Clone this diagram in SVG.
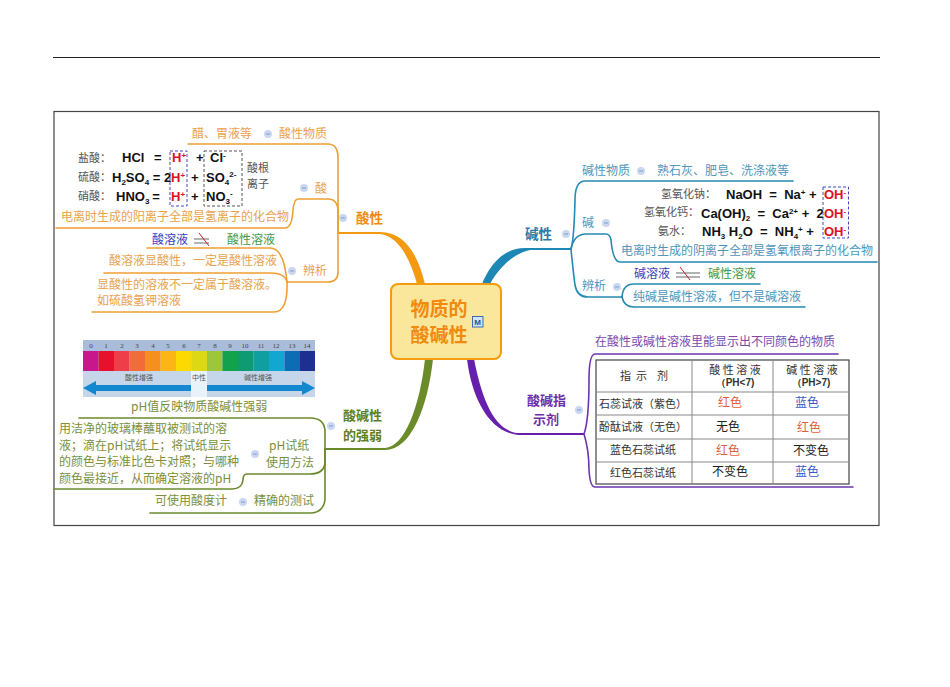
<svg xmlns="http://www.w3.org/2000/svg" width="950" height="687" viewBox="0 0 950 687">
<style>
text{font-family:"Noto Sans CJK SC","Noto Sans",sans-serif;font-size:12px}
.f{font-family:"Liberation Sans",Arial,sans-serif;font-weight:700;font-size:13px;fill:#111;white-space:pre}
.s{font-size:8px}
.l{font-size:11px;fill:#555}
.o{fill:#e9a24e}.og{fill:#ee8a12;font-weight:700;font-size:13.500px}
.g{fill:#7b8f3c}.gg{fill:#5f7f22;font-weight:700;font-size:13px}
.b{fill:#4e97bb}.bg{fill:#2a7aa8;font-weight:700;font-size:13.500px}
.p{fill:#7a4ab0}.pg{fill:#6a2fa8;font-weight:700;font-size:13px}
.c{fill:none;stroke-width:1.6;stroke-linecap:round}
.co{stroke:#ee9f33}.cg{stroke:#6b8a2a}.cb{stroke:#2389b5}.cp{stroke:#6d35ad}
.t{font-size:11px;fill:#333;text-anchor:middle;white-space:pre}
.r{fill:#e0603c}.u{fill:#3b58c8}.k{fill:#222}
.grid{stroke:#888;stroke-width:1;fill:none}
.d{fill:none;stroke-width:1;stroke-dasharray:3 2}
.n{font-size:7px;font-family:"Liberation Serif",serif;fill:#444;text-anchor:middle}
.z{font-size:7px;fill:#555;text-anchor:middle}
</style>
<defs>
<g id="m"><circle r="4" fill="#c9d8f0"/><path d="M-2 0H2" stroke="#7f9ccc" stroke-width="1"/></g>
</defs>
<rect width="950" height="687" fill="#fff"/>
<path d="M53 57.500H880" stroke="#222" stroke-width="1"/>
<rect x="54" y="111.500" width="825" height="414" fill="#fff" stroke="#444" stroke-width="1.200"/>

<g id="connectors">
<path d="M425 284C418 255 405 232 380 232L338 232V234L380 234C398 236 410 258 417 284Z" fill="#f39a10"/>
<path class="c co" d="M338 233V158Q338 144 328 144H188"/>
<path class="c co" d="M338 233V212Q338 199 328 199H298Q294 199 293 210Q292 228 285 228H56"/>
<path class="c co" d="M338 233V272Q338 282 328 282H287"/>
<path class="c co" d="M287 282Q284 248 270 248H147"/>
<path class="c co" d="M287 282Q285 273 270 273H104"/>
<path class="c co" d="M287 282Q288 312 274 312H92"/>
<path d="M433 359C428 405 412 450 385 450L325 450V448L385 448C405 447 420 405 425 359Z" fill="#6b8a2a"/>
<path class="c cg" d="M325 449V432Q325 418 310 418H79"/>
<path class="c cg" d="M325 449V464Q323 474 310 474H247Q243 474 243 480Q242 489 232 489H54"/>
<path class="c cg" d="M325 449V500Q323 513 310 513H150"/>
<path d="M482 284C490 264 504 248 525 248L571 248V250L530 250C515 253 500 266 490 284Z" fill="#1d87b5"/>
<path class="c cb" d="M571 249Q574 240 575 200Q575 181 585 181H793"/>
<path class="c cb" d="M571 249Q574 234 586 234H606Q610 234 611 240Q613 262 620 262H877"/>
<path class="c cb" d="M571 249Q573 270 575 285Q577 297 588 297H622"/>
<path class="c cb" d="M622 297Q623 284 634 284H760"/>
<path class="c cb" d="M622 297Q624 307 634 307H805"/>
<path d="M474 359C482 400 495 433 520 433L584 433V435L518 435C490 432 472 400 467 359Z" fill="#6620ad"/>
<path class="c cp" d="M584 434Q589 420 589 380Q589 354 595 354H838"/>
<path class="c cp" d="M584 434Q589 450 589 470Q590 487 595 487H853"/>
</g>

<g id="center">
<rect x="391" y="284" width="110" height="75" rx="7" fill="#fbe79b" stroke="#f39c12" stroke-width="2"/>
<text x="439" y="316" text-anchor="middle" fill="#f08a10" style="font-size:19px;font-weight:700">物质的</text>
<text x="439" y="342" text-anchor="middle" fill="#f08a10" style="font-size:19px;font-weight:700">酸碱性</text>
<rect x="472.500" y="316.500" width="10.500" height="10.500" fill="#d4e3f5" stroke="#3a6ea8"/>
<text x="477.700" y="325" text-anchor="middle" fill="#23578f" style="font-size:8px;font-weight:700;font-family:'Liberation Sans',sans-serif">M</text>
</g>

<g id="acid">
<text class="og" x="356" y="223">酸性</text><use href="#m" x="343" y="218"/>
<text class="o" x="192" y="138">醋、胃液等</text><use href="#m" x="268" y="134"/><text class="o" x="279" y="138">酸性物质</text>
<text class="o" x="315" y="193">酸</text><use href="#m" x="304" y="188"/>
<text class="l" x="78" y="162">盐酸：</text><text class="l" x="78" y="181">硫酸：</text><text class="l" x="78" y="200">硝酸：</text>
<text class="f" x="122" y="162">HCl</text><text class="f" x="154" y="162">=</text>
<text class="f" x="172" y="162" style="fill:#dd1122">H<tspan class="s" dy="-4">+</tspan></text><text class="f" x="196" y="162">+</text><text class="f" x="210" y="162">Cl<tspan class="s" dy="-4">-</tspan></text>
<text class="f" x="112" y="182">H<tspan class="s" dy="3">2</tspan><tspan dy="-3">SO</tspan><tspan class="s" dy="3">4</tspan><tspan dy="-3"> = 2</tspan></text>
<text class="f" x="171" y="182" style="fill:#dd1122">H<tspan class="s" dy="-4">+</tspan></text><text class="f" x="191" y="182">+</text><text class="f" x="206" y="182">SO<tspan class="s" dy="3">4</tspan><tspan class="s" dy="-8">2-</tspan></text>
<text class="f" x="116" y="201">HNO<tspan class="s" dy="3">3</tspan></text><text class="f" x="156" y="201" text-anchor="middle">=</text>
<text class="f" x="171" y="201" style="fill:#dd1122">H<tspan class="s" dy="-4">+</tspan></text><text class="f" x="191" y="201">+</text><text class="f" x="206" y="201">NO<tspan class="s" dy="3">3</tspan><tspan class="s" dy="-8">-</tspan></text>
<rect class="d" x="170" y="151" width="17" height="55" stroke="#4a45c0"/>
<rect class="d" x="204" y="151" width="38" height="55" stroke="#555"/>
<text class="l" x="247" y="172">酸根</text><text class="l" x="247" y="188">离子</text>
<text class="o" x="61" y="221">电离时生成的阳离子全部是氢离子的化合物</text>
<text class="o" x="303" y="275">辨析</text><use href="#m" x="292" y="271"/>
<text x="152" y="244" fill="#3a3ec0">酸溶液</text>
<path d="M194 239H209M194 243H209" stroke="#666" stroke-width="1"/><path d="M199 233L209 246" stroke="#c8202c" stroke-width="1"/>
<text x="227" y="244" fill="#3f9a45">酸性溶液</text>
<text class="o" x="109" y="265">酸溶液显酸性，一定是酸性溶液</text>
<text class="o" x="97" y="289">显酸性的溶液不一定属于酸溶液。</text>
<text class="o" x="97" y="305">如硫酸氢钾溶液</text>
</g>

<g id="strength">
<rect x="83" y="340" width="232" height="57" fill="#c5d6ea"/>
<rect x="83" y="340" width="232" height="11" fill="#a9bddb"/>
<g id="scale">
<rect x="83" y="351" width="15.500" height="20" fill="#c8168c"/><rect x="98.500" y="351" width="15.500" height="20" fill="#e8112d"/><rect x="114" y="351" width="15.500" height="20" fill="#ed3e4a"/><rect x="129.500" y="351" width="15.500" height="20" fill="#f26b3a"/><rect x="145" y="351" width="15.500" height="20" fill="#f58f20"/><rect x="160.500" y="351" width="15.500" height="20" fill="#fbb616"/><rect x="176" y="351" width="15.500" height="20" fill="#fcd900"/><rect x="191.500" y="351" width="15.500" height="20" fill="#dcd815"/><rect x="207" y="351" width="15.500" height="20" fill="#9cc63c"/><rect x="222.500" y="351" width="15.500" height="20" fill="#12a24e"/><rect x="238" y="351" width="15.500" height="20" fill="#0f9b72"/><rect x="253.500" y="351" width="15.500" height="20" fill="#0f9fa0"/><rect x="269" y="351" width="15.500" height="20" fill="#12a7d2"/><rect x="284.500" y="351" width="15.500" height="20" fill="#0d6db4"/><rect x="300" y="351" width="15" height="20" fill="#1e2f8f"/>
</g>
<rect x="191" y="371" width="16" height="26" fill="#eaf2f9"/>
<text class="n" x="91" y="348">0</text><text class="n" x="106" y="348">1</text><text class="n" x="122" y="348">2</text><text class="n" x="137" y="348">3</text><text class="n" x="153" y="348">4</text><text class="n" x="168" y="348">5</text><text class="n" x="184" y="348">6</text><text class="n" x="199" y="348">7</text><text class="n" x="215" y="348">8</text><text class="n" x="230" y="348">9</text><text class="n" x="245" y="348">10</text><text class="n" x="261" y="348">11</text><text class="n" x="276" y="348">12</text><text class="n" x="292" y="348">13</text><text class="n" x="307" y="348">14</text>
<text class="z" x="139" y="380">酸性增强</text>
<text class="z" x="199" y="380">中性</text>
<text class="z" x="258" y="380">碱性增强</text>
<path d="M83 388L96 381V385H191V391H96V395Z" fill="#1288cf"/>
<path d="M315 388L302 381V385H207V391H302V395Z" fill="#1288cf"/>
<text class="g" x="131" y="411">pH值反映物质酸碱性强弱</text>
<text class="gg" x="343" y="420">酸碱性</text><text class="gg" x="343" y="440">的强弱</text><use href="#m" x="331" y="426"/>
<use href="#m" x="255" y="454"/>
<text class="g" x="269" y="450">pH试纸</text><text class="g" x="266" y="467">使用方法</text>
<text class="g" x="59" y="433">用洁净的玻璃棒蘸取被测试的溶</text>
<text class="g" x="59" y="449.500">液；滴在pH试纸上；将试纸显示</text>
<text class="g" x="59" y="466">的颜色与标准比色卡对照；与哪种</text>
<text class="g" x="59" y="482.500">颜色最接近，从而确定溶液的pH</text>
<text class="g" x="155" y="505">可使用酸度计</text><use href="#m" x="243" y="502"/><text class="g" x="254" y="505">精确的测试</text>
</g>

<g id="base">
<text class="bg" x="525" y="239">碱性</text><use href="#m" x="566" y="234"/>
<text class="b" x="582" y="175">碱性物质</text><use href="#m" x="641" y="171"/><text class="b" x="657" y="175">熟石灰、肥皂、洗涤液等</text>
<text class="b" x="582" y="227">碱</text><use href="#m" x="606" y="223"/>
<text class="l" x="661" y="198">氢氧化钠：</text><text class="l" x="644" y="216">氢氧化钙：</text><text class="l" x="658" y="235">氨水：</text>
<text class="f" x="726" y="199">NaOH  =  Na<tspan class="s" dy="-4">+</tspan><tspan dy="4"> +</tspan></text>
<text class="f" x="701" y="218">Ca(OH)<tspan class="s" dy="3">2</tspan><tspan dy="-3">  =  Ca</tspan><tspan class="s" dy="-4">2+</tspan><tspan dy="4"> +  2</tspan></text>
<text class="f" x="702" y="236">NH<tspan class="s" dy="3">3</tspan><tspan dy="-3"> H</tspan><tspan class="s" dy="3">2</tspan><tspan dy="-3">O  =  NH</tspan><tspan class="s" dy="3">4</tspan><tspan class="s" dy="-7">+</tspan><tspan dy="4"> +</tspan></text>
<text class="f" x="824" y="199" style="fill:#dd1122">OH<tspan class="s" dy="-4">-</tspan></text>
<text class="f" x="824" y="218" style="fill:#dd1122">OH<tspan class="s" dy="-4">-</tspan></text>
<text class="f" x="824" y="236" style="fill:#dd1122">OH<tspan class="s" dy="-4">-</tspan></text>
<rect class="d" x="823" y="187" width="25.500" height="51" stroke="#4a45c0"/>
<text class="b" x="621" y="255">电离时生成的阴离子全部是氢氧根离子的化合物</text>
<text class="b" x="582" y="290">辨析</text><use href="#m" x="617" y="287"/>
<text x="634" y="278" fill="#3a3ec0">碱溶液</text>
<path d="M676 273H700M676 277H700" stroke="#666" stroke-width="1"/><path d="M680 267L690 280" stroke="#c8202c" stroke-width="1"/>
<text x="708" y="278" fill="#3f9a45">碱性溶液</text>
<text class="b" x="633" y="301">纯碱是碱性溶液，但不是碱溶液</text>
</g>

<g id="indicator">
<text class="pg" x="527" y="405">酸碱指</text><text class="pg" x="533" y="424">示剂</text><use href="#m" x="579" y="410"/>
<text class="p" x="595" y="346">在酸性或碱性溶液里能显示出不同颜色的物质</text>
<rect x="596" y="360" width="253" height="124" fill="#fff" stroke="#444" stroke-width="1.200"/>
<path class="grid" d="M692 360V484M773 360V484M596 392H849M596 415H849M596 439H849M596 462H849"/>
<text class="t" x="644" y="380">指  示    剂</text>
<text class="t" x="735" y="374">酸 性 溶 液</text><text class="t" x="735" y="386" style="font-family:'Liberation Sans',sans-serif;font-weight:700;font-size:10px">（PH&lt;7)</text>
<text class="t" x="812" y="374">碱 性 溶 液</text><text class="t" x="811" y="386" style="font-family:'Liberation Sans',sans-serif;font-weight:700;font-size:10px">（PH&gt;7)</text>
<text class="t" x="643" y="408">石蕊试液（紫色）</text><text class="t" x="643" y="431">酚酞试液（无色）</text><text class="t" x="643" y="454">蓝色石蕊试纸</text><text class="t" x="643" y="477">红色石蕊试纸</text>
<text class="r" x="730" y="407" text-anchor="middle">红色</text><text class="u" x="807" y="407" text-anchor="middle">蓝色</text>
<text class="k" x="728" y="431" text-anchor="middle">无色</text><text class="r" x="809" y="432" text-anchor="middle">红色</text>
<text class="r" x="728" y="455" text-anchor="middle">红色</text><text class="k" x="811" y="455" text-anchor="middle">不变色</text>
<text class="k" x="730" y="476" text-anchor="middle">不变色</text><text class="u" x="807" y="476" text-anchor="middle">蓝色</text>
</g>
</svg>
